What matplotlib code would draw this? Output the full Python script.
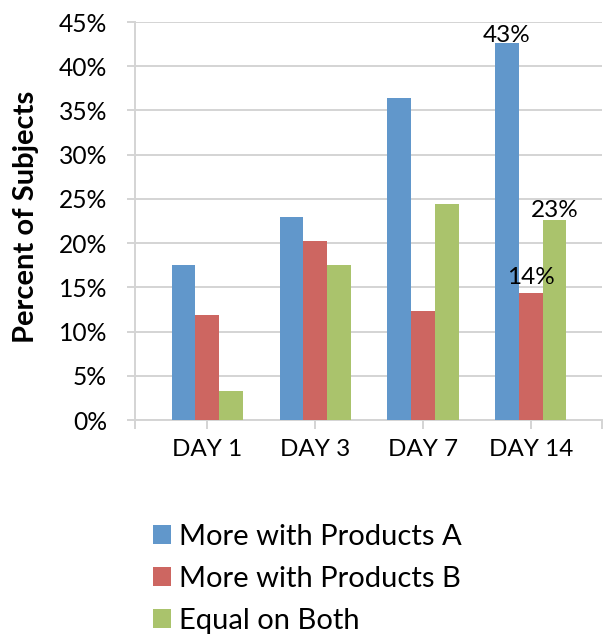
import matplotlib
matplotlib.use("Agg")
import matplotlib.pyplot as plt
from matplotlib.patches import Patch
import numpy as np

plt.rcParams['font.family'] = ['Lato', 'DejaVu Sans']

categories = ["DAY 1", "DAY 3", "DAY 7", "DAY 14"]
series_names = ["More with Products A", "More with Products B", "Equal on Both"]
more_a = [0.175, 0.230, 0.364, 0.426]
more_b = [0.119, 0.202, 0.123, 0.144]
equal_both = [0.033, 0.175, 0.244, 0.226]
y_ticks = [0.00, 0.05, 0.10, 0.15, 0.20, 0.25, 0.30, 0.35, 0.40, 0.45]

# which bars carry a value label: (series index, category index, offset in pt)
labelled = [(0, 3, 0.7), (1, 3, 6.5), (2, 3, 2.2)]

colors = ["#6197CB", "#CD6661", "#AAC36C"]
grid_color = "#D4D4D4"

fig = plt.figure(figsize=(6.08, 6.35), dpi=100)
ax = fig.add_axes([135 / 608, 1 - 420 / 635, (602 - 135) / 608, (420 - 22) / 635])

x = np.arange(len(categories))
width = 0.22
all_series = [more_a, more_b, equal_both]
for i, (vals, col) in enumerate(zip(all_series, colors)):
    ax.bar(x + (i - 1) * width, vals, width, color=col, zorder=3, linewidth=0)

for si, ci, off in labelled:
    v = all_series[si][ci]
    ax.annotate(f"{v * 100:.0f}%", (x[ci] + (si - 1) * width, v),
                xytext=(0, off), textcoords="offset points",
                ha="center", va="baseline", fontsize=17.5, color="#000000",
                zorder=4)

ax.set_ylim(0, 0.45)
ax.set_xlim(-0.67, 3.66)
ax.set_yticks(y_ticks)
ax.set_yticklabels([f"{t * 100:.0f}%" for t in y_ticks])
ax.yaxis.grid(True, color=grid_color, linewidth=1.4, zorder=0)
ax.set_axisbelow(True)

# category labels at group centres, plus plain ticks at the axis ends
ax.set_xticks(list(x) + [-0.67, 3.66])
ax.set_xticklabels(categories + ["", ""])

for s in ["top", "right"]:
    ax.spines[s].set_visible(False)
for s in ["left", "bottom"]:
    ax.spines[s].set_color(grid_color)
    ax.spines[s].set_linewidth(1.4)

ax.tick_params(axis="y", direction="out", length=6, width=1.4, color=grid_color,
               labelsize=17.7, pad=14, labelcolor="#000000")
ax.tick_params(axis="x", direction="out", length=6.5, width=1.4, color=grid_color,
               labelsize=17.5, pad=7, labelcolor="#000000")

fig.text(26 / 608, 1 - 217 / 635, "Percent of Subjects", rotation=90,
         ha="center", va="center", fontsize=21, fontweight="bold", color="#000000")

handles = [Patch(facecolor=c, edgecolor="none") for c in colors]
fig.legend(handles, series_names, loc="upper left",
           bbox_to_anchor=(153 / 608, 1 - 524 / 635), frameon=False,
           fontsize=21, handlelength=0.62, handleheight=0.62,
           handletextpad=0.28, labelspacing=0.55, borderpad=0, borderaxespad=0)

fig.savefig("out.png", dpi=100)
